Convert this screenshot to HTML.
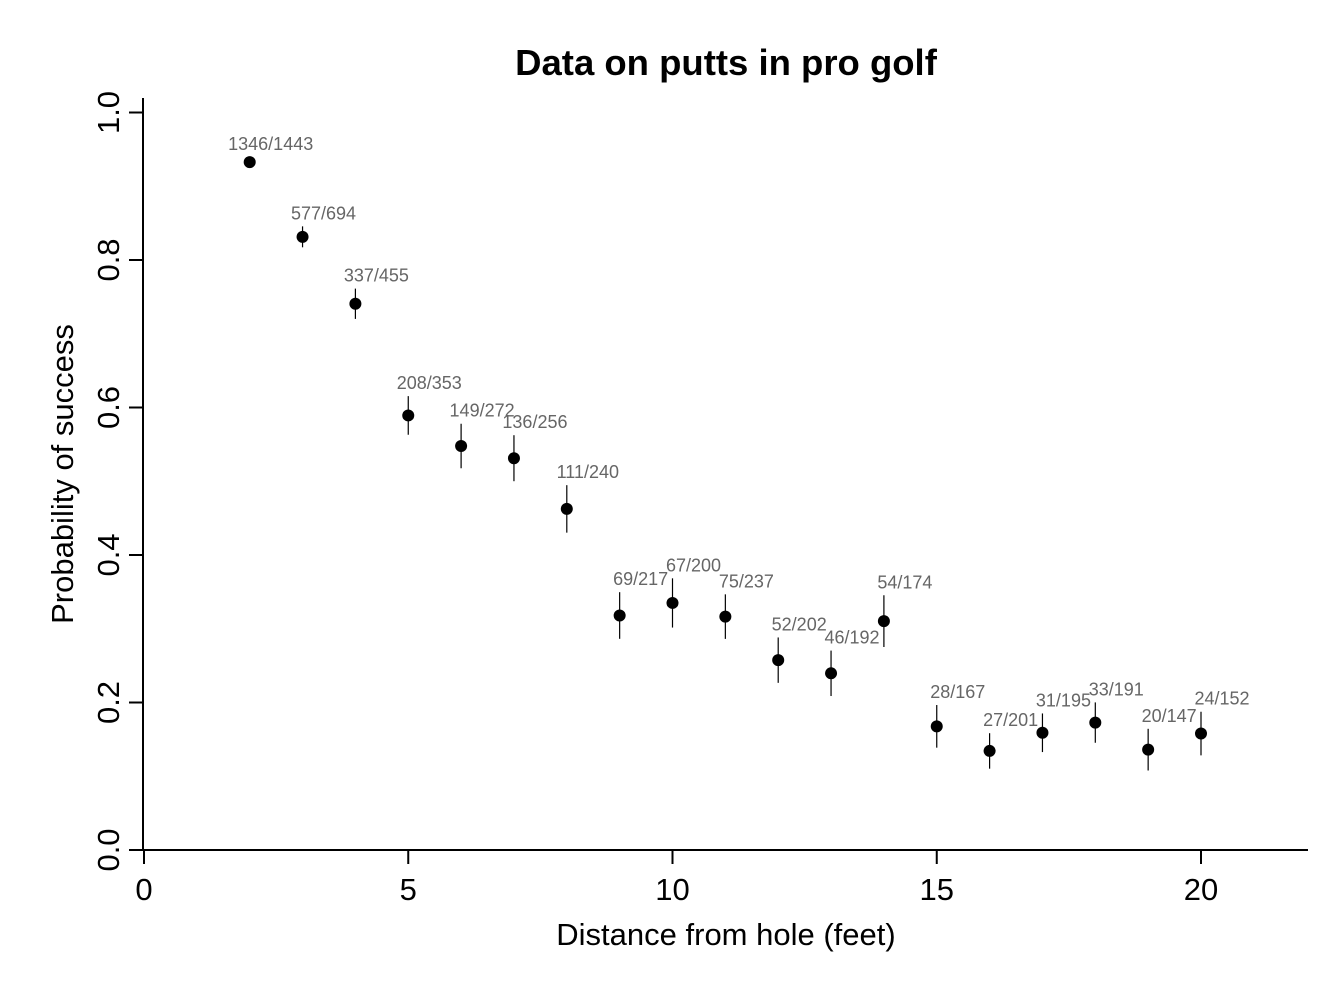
<!DOCTYPE html>
<html><head><meta charset="utf-8"><style>
html,body{margin:0;padding:0;background:#fff;}
svg text{font-family:"Liberation Sans",Arial,sans-serif;}
</style></head><body>
<svg id="s" width="1328" height="992" xmlns="http://www.w3.org/2000/svg">
<text x="726" y="75" text-anchor="middle" font-size="36.5" font-weight="bold">Data on putts in pro golf</text>
<line x1="143" y1="98" x2="143" y2="851" stroke="#000" stroke-width="2"/>
<line x1="143" y1="850" x2="1308" y2="850" stroke="#000" stroke-width="2"/>
<text x="726" y="945" text-anchor="middle" font-size="31">Distance from hole (feet)</text>
<text transform="translate(73,474) rotate(-90)" text-anchor="middle" font-size="31">Probability of success</text>
<g id="g"></g>
</svg>
<script>
var g=document.getElementById('g'),h='';
function X(v){return 144+v*52.85;}
function Y(v){return 850-v*737.5;}
[0,5,10,15,20].forEach(function(t){var x=X(t);h+='<line x1="'+x+'" y1="850" x2="'+x+'" y2="864" stroke="#000" stroke-width="2"/><text x="'+x+'" y="900" text-anchor="middle" font-size="31">'+t+'</text>';});
[0,0.2,0.4,0.6,0.8,1.0].forEach(function(t){var y=Y(t);h+='<line x1="129" y1="'+y+'" x2="143" y2="'+y+'" stroke="#000" stroke-width="2"/><text transform="translate(119,'+y+') rotate(-90)" text-anchor="middle" font-size="31">'+t.toFixed(1)+'</text>';});
var d=[[1443,1346],[694,577],[455,337],[353,208],[272,149],[256,136],[240,111],[217,69],[200,67],[237,75],[202,52],[192,46],[174,54],[167,28],[201,27],[195,31],[191,33],[147,20],[152,24]];
d.forEach(function(r,i){var x=X(i+2),n=r[0],s=r[1],p=s/n,se=Math.sqrt(p*(1-p)/n);
var y1=Y(p+se),y2=Y(p-se);
h+='<line x1="'+x+'" y1="'+y1+'" x2="'+x+'" y2="'+y2+'" stroke="#000" stroke-width="1.2"/>';
h+='<circle cx="'+x+'" cy="'+Y(p)+'" r="6" fill="#000"/>';
h+='<text x="'+(x+21)+'" y="'+(y1-7)+'" text-anchor="middle" font-size="18" fill="#666">'+s+'/'+n+'</text>';});
g.innerHTML=h;
</script>
</body></html>
